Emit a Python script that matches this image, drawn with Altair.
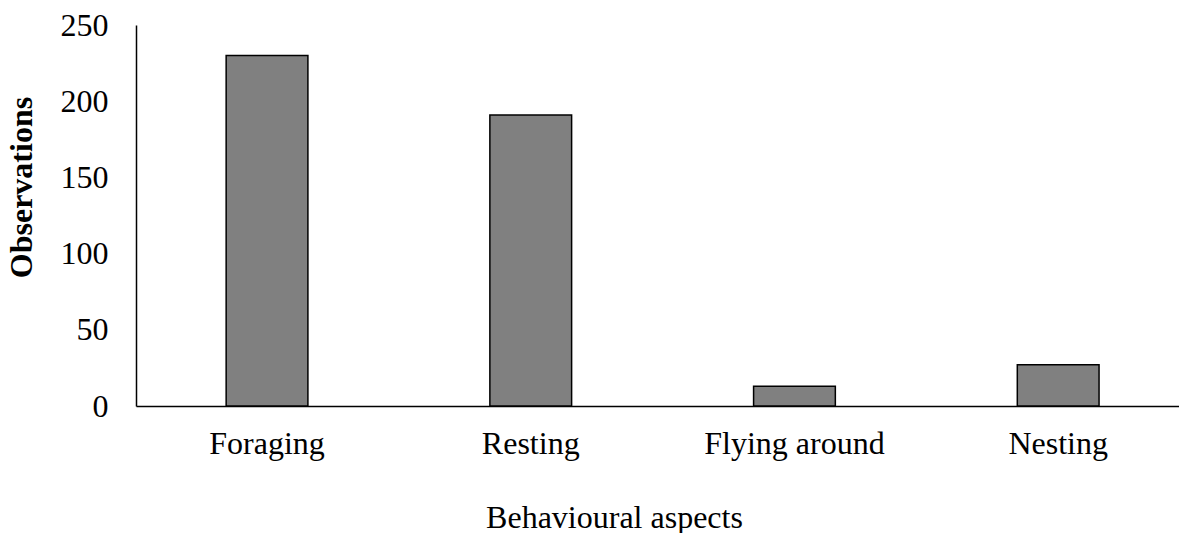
import altair as alt
import pandas as pd

categories = ["Foraging", "Resting", "Flying around", "Nesting"]
observations = [230, 191, 13, 27]

df = pd.DataFrame({"Behaviour": categories, "Observations": observations})

font = "Liberation Serif"

chart = alt.Chart(df).mark_bar(
    color="#808080", stroke="black", strokeWidth=1.5
).encode(
    x=alt.X("Behaviour:N", sort=categories,
            scale=alt.Scale(paddingInner=0.69, paddingOuter=0.3225, align=0.53),
            axis=alt.Axis(title="Behavioural aspects", labelAngle=0, ticks=False,
                          domainColor="black", domainWidth=1.5, labelLimit=400,
                          labelFont=font, labelFontSize=32, labelColor="black",
                          labelPadding=22, titleFont=font, titleFontSize=32,
                          titleFontWeight="normal", titleColor="black",
                          titlePadding=43, titleX=478)),
    y=alt.Y("Observations:Q",
            scale=alt.Scale(domain=[0, 250]),
            axis=alt.Axis(title="Observations", values=[0, 50, 100, 150, 200, 250],
                          ticks=False, grid=False, domainColor="black", domainWidth=1.5,
                          labelFont=font, labelFontSize=32, labelColor="black",
                          labelPadding=28, titleFont=font, titleFontSize=32,
                          titleFontWeight="bold", titleColor="black",
                          titlePadding=22, titleY=162)),
).properties(
    width=1043, height=381,
    autosize=alt.AutoSizeParams(type="none"),
    padding={"left": 128, "top": 17, "right": 0, "bottom": 127},
).configure_view(stroke=None)

chart.save("out.html", embed_options={"renderer": "svg", "actions": False})
